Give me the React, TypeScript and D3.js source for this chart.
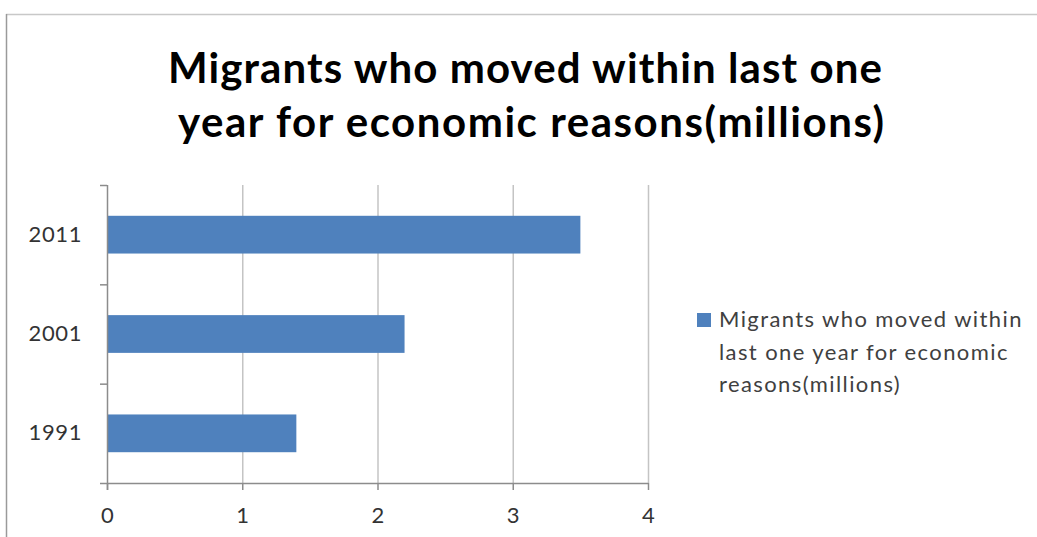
import React, { useEffect, useRef } from "react";
import * as d3 from "d3";

const categories = ["1991", "2001", "2011"];
const values = [1.4, 2.2, 3.5];
const xTicks = [0, 1, 2, 3, 4];
const titleLines = ["Migrants who moved within last one", "year for economic reasons(millions)"];
const legendLines = ["Migrants who moved within", "last one year for economic", "reasons(millions)"];

const W = 1037;
const H = 537;
const FONT = "Lato, 'Open Sans', sans-serif";

export default function App() {
  const ref = useRef<SVGSVGElement>(null);
  useEffect(() => {
    const svg = d3.select(ref.current);
    svg.selectAll("*").remove();
    svg.append("rect").attr("width", W).attr("height", H).attr("fill", "#fff");

    // outer border (top and left)
    svg.append("line").attr("x1", 6).attr("x2", W).attr("y1", 14.5).attr("y2", 14.5).attr("stroke", "#c8c8c8").attr("stroke-width", 1.5);
    svg.append("line").attr("x1", 6.5).attr("x2", 6.5).attr("y1", 14).attr("y2", H).attr("stroke", "#9a9a9a").attr("stroke-width", 1.5);

    // title
    const titleSpec = [
      { cx: 525, y: 83, len: 714 },
      { cx: 531, y: 137, len: 706 },
    ];
    titleLines.forEach((t, i) => {
      svg.append("text")
        .attr("x", titleSpec[i].cx).attr("y", titleSpec[i].y)
        .attr("text-anchor", "middle").attr("font-family", FONT).attr("font-weight", 700)
        .attr("font-size", 42).attr("fill", "#000")
        .attr("textLength", titleSpec[i].len).attr("lengthAdjust", "spacing")
        .text(t);
    });

    const left = 107, right = 648, top = 185, bottom = 483;
    const x = d3.scaleLinear().domain([0, 4]).range([left, right]);
    const y = d3.scaleBand().domain([...categories].reverse()).range([top, bottom]).paddingInner(0.62).paddingOuter(0.31);

    // gridlines
    svg.append("g").selectAll("line").data(xTicks.filter((d) => d > 0)).join("line")
      .attr("x1", (d) => x(d) + 0.5).attr("x2", (d) => x(d) + 0.5)
      .attr("y1", top).attr("y2", bottom)
      .attr("stroke", "#c4c4c4").attr("stroke-width", 1.5);

    // bars
    svg.append("g").selectAll("rect").data(categories).join("rect")
      .attr("x", x(0))
      .attr("y", (d) => y(d)!)
      .attr("width", (_, i) => x(values[i]) - x(0))
      .attr("height", y.bandwidth())
      .attr("fill", "#4f81bd");

    // x axis
    const axisColor = "#8c8c8c";
    svg.append("line").attr("x1", 100).attr("x2", right + 0.5).attr("y1", bottom + 0.5).attr("y2", bottom + 0.5).attr("stroke", axisColor).attr("stroke-width", 1.5);
    svg.append("g").selectAll("line").data(xTicks).join("line")
      .attr("x1", (d) => x(d) + 0.5).attr("x2", (d) => x(d) + 0.5)
      .attr("y1", bottom).attr("y2", bottom + 7)
      .attr("stroke", axisColor).attr("stroke-width", 1.5);
    svg.append("g").selectAll("text").data(xTicks).join("text")
      .attr("x", (d) => x(d) + 0.5).attr("y", 523)
      .attr("text-anchor", "middle").attr("font-family", FONT).attr("font-size", 22).attr("fill", "#333")
      .text((d) => String(d));

    // y axis
    svg.append("line").attr("x1", left + 0.5).attr("x2", left + 0.5).attr("y1", top).attr("y2", bottom + 7).attr("stroke", axisColor).attr("stroke-width", 1.5);
    const step = y.step();
    const bounds = [0, 1, 2].map((i) => top + i * step);
    svg.append("g").selectAll("line").data(bounds).join("line")
      .attr("x1", 100).attr("x2", left)
      .attr("y1", (d) => d + 0.5).attr("y2", (d) => d + 0.5)
      .attr("stroke", axisColor).attr("stroke-width", 1.5);
    svg.append("g").selectAll("text").data(categories).join("text")
      .attr("x", 82).attr("y", (d) => y(d)! + y.bandwidth() / 2 + 7)
      .attr("text-anchor", "end").attr("font-family", FONT).attr("font-size", 22)
      .attr("letter-spacing", 0.6).attr("fill", "#333")
      .text((d) => d);

    // legend
    svg.append("rect").attr("x", 697).attr("y", 313).attr("width", 14).attr("height", 14).attr("fill", "#4f81bd");
    legendLines.forEach((t, i) => {
      svg.append("text")
        .attr("x", 719).attr("y", 327 + i * 32.5)
        .attr("font-family", FONT).attr("font-size", 22).attr("letter-spacing", 1.4).attr("fill", "#404040")
        .text(t);
    });
  }, []);

  return (
    <svg ref={ref} width={W} height={H} style={{ position: "absolute", left: 0, top: 0, display: "block" }} />
  );
}
